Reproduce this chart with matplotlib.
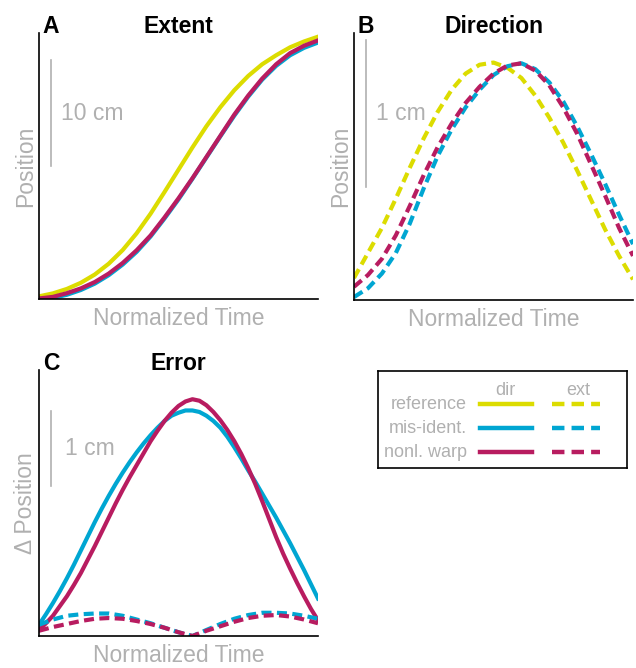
import numpy as np
import matplotlib
matplotlib.use("Agg")
import matplotlib.pyplot as plt

plt.rcParams['font.family'] = ['Liberation Sans', 'DejaVu Sans']

# normalized time samples
time = [0.0, 0.05, 0.10, 0.15, 0.20, 0.25, 0.30, 0.35, 0.40, 0.45, 0.50,
        0.55, 0.60, 0.65, 0.70, 0.75, 0.80, 0.85, 0.90, 0.95, 1.0]
time_fine = [0.0, 0.025, 0.05, 0.075, 0.1, 0.125, 0.15, 0.175, 0.2, 0.225,
             0.25, 0.275, 0.3, 0.325, 0.35, 0.375, 0.4, 0.425, 0.45, 0.475,
             0.5, 0.525, 0.55, 0.575, 0.6, 0.625, 0.65, 0.675, 0.7, 0.725,
             0.75, 0.775, 0.8, 0.825, 0.85, 0.875, 0.9, 0.925, 0.95, 0.975, 1.0]

# A: extent (cm)
ext_ref = [0.25, 0.53, 0.95, 1.53, 2.31, 3.33, 4.62, 6.2, 8.05, 10.1, 12.2,
           14.3, 16.3, 18.1, 19.7, 21.05, 22.15, 23.0, 23.75, 24.3, 24.75]
ext_mis = [0.0, 0.1, 0.4, 0.85, 1.45, 2.25, 3.25, 4.45, 5.9, 7.6, 9.4,
           11.35, 13.35, 15.35, 17.3, 19.1, 20.7, 22.0, 23.0, 23.7, 24.2]
ext_warp = [0.05, 0.2, 0.55, 1.0, 1.6, 2.4, 3.4, 4.6, 6.0, 7.7, 9.5,
            11.4, 13.4, 15.4, 17.4, 19.2, 20.8, 22.15, 23.2, 23.9, 24.4]

# B: direction (cm)
dir_ref = [0.15, 0.32, 0.49, 0.69, 0.90, 1.10, 1.28, 1.43, 1.54, 1.60, 1.615,
           1.58, 1.51, 1.39, 1.24, 1.07, 0.88, 0.68, 0.48, 0.30, 0.14]
dir_mis = [0.02, 0.08, 0.18, 0.32, 0.52, 0.76, 0.98, 1.16, 1.31, 1.43, 1.53,
           1.59, 1.61, 1.57, 1.48, 1.35, 1.18, 0.99, 0.79, 0.58, 0.38]
dir_warp = [0.09, 0.17, 0.28, 0.44, 0.64, 0.85, 1.04, 1.20, 1.34, 1.45, 1.54,
            1.595, 1.61, 1.56, 1.46, 1.31, 1.13, 0.92, 0.71, 0.49, 0.30]

# C: error (cm), solid = dir (fine time), dashed = ext
err_dir_mis = [0.15, 0.29, 0.44, 0.60, 0.77, 0.95, 1.14, 1.33, 1.52, 1.70,
               1.87, 2.03, 2.18, 2.32, 2.45, 2.57, 2.68, 2.78, 2.87, 2.94,
               2.98, 3.01, 3.01, 2.99, 2.94, 2.87, 2.78, 2.66, 2.52, 2.37,
               2.21, 2.06, 1.90, 1.74, 1.58, 1.41, 1.24, 1.06, 0.88, 0.69, 0.50]
err_dir_warp = [0.08, 0.17, 0.27, 0.40, 0.53, 0.68, 0.84, 1.02, 1.20, 1.39,
                1.58, 1.77, 1.95, 2.12, 2.28, 2.44, 2.60, 2.74, 2.87, 2.98,
                3.07, 3.13, 3.16, 3.14, 3.08, 2.99, 2.88, 2.75, 2.60, 2.43,
                2.24, 2.03, 1.80, 1.56, 1.32, 1.10, 0.90, 0.71, 0.53, 0.36, 0.21]
err_ext_mis = [0.15, 0.22, 0.27, 0.29, 0.30, 0.30, 0.27, 0.22, 0.17, 0.11, 0.05,
               0.0, 0.08, 0.16, 0.23, 0.28, 0.31, 0.31, 0.30, 0.27, 0.23]
err_ext_warp = [0.07, 0.12, 0.16, 0.20, 0.23, 0.24, 0.23, 0.20, 0.16, 0.11, 0.05,
                0.0, 0.07, 0.13, 0.19, 0.24, 0.27, 0.28, 0.26, 0.22, 0.17]

names = ['reference', 'mis-ident.', 'nonl. warp']
colors = ['#dcdc00', '#00a6d2', '#b81c60']
grey = '#b0b0b0'
dash = (2.4, 1.3)


def style(ax, letter, title, ylab, ymax, bar, bar_text, text_x):
    ax.set_xlim(0, 1)
    ax.set_ylim(0, ymax)
    ax.set_xticks([])
    ax.set_yticks([])
    for s in ['top', 'right']:
        ax.spines[s].set_visible(False)
    for s in ['left', 'bottom']:
        ax.spines[s].set_linewidth(1.2)
    ax.text(0.5, 1.0, title, transform=ax.transAxes, fontsize=16.5,
            fontweight='bold', ha='center', va='baseline')
    ax.text(0.014, 1.0, letter, transform=ax.transAxes, fontsize=16.5,
            fontweight='bold', ha='left', va='baseline')
    ax.set_xlabel('Normalized Time', fontsize=16.5, color=grey, labelpad=6)
    ax.set_ylabel(ylab, fontsize=16.5, color=grey, labelpad=1.5)
    ax.plot([0.043, 0.043], bar, color=grey, lw=1.2)
    ax.text(text_x, (bar[0] + bar[1]) / 2, bar_text, fontsize=16.5,
            color=grey, ha='left', va='center')


fig = plt.figure(figsize=(6.36, 6.68), dpi=100)
axA = fig.add_axes([0.0613, 0.5524, 0.4387, 0.3982])
axB = fig.add_axes([0.5566, 0.5509, 0.4387, 0.3997])
axC = fig.add_axes([0.0613, 0.0479, 0.4387, 0.3982])
axL = fig.add_axes([0.594, 0.2994, 0.3915, 0.1452])

style(axA, 'A', 'Extent', 'Position', 25.1, [12.55, 22.55], '10 cm', 0.079)
for y, c in zip([ext_ref, ext_mis, ext_warp], colors):
    axA.plot(time, y, color=c, lw=3)

style(axB, 'B', 'Direction', 'Position', 1.816, [0.77, 1.77], '1 cm', 0.079)
for y, c in zip([dir_ref, dir_mis, dir_warp], colors):
    axB.plot(time, y, color=c, lw=3, ls=(0, dash))

style(axC, 'C', 'Error', '\u0394 Position', 3.55, [2.0, 3.0], '1 cm', 0.093)
axC.plot(time_fine, err_dir_mis, color=colors[1], lw=3)
axC.plot(time_fine, err_dir_warp, color=colors[2], lw=3)
axC.plot(time, err_ext_mis, color=colors[1], lw=3, ls=(0, dash))
axC.plot(time, err_ext_warp, color=colors[2], lw=3, ls=(0, dash))

# legend box
axL.set_xlim(0, 249)
axL.set_ylim(97, 0)
axL.set_xticks([])
axL.set_yticks([])
for s in axL.spines.values():
    s.set_linewidth(1.2)
axL.text(128, 19, 'dir', fontsize=13, color=grey, ha='center', va='center')
axL.text(200, 19, 'ext', fontsize=13, color=grey, ha='center', va='center')
for i, (n, c) in enumerate(zip(names, colors)):
    yy = 33 + 24 * i
    axL.text(89, yy, n, fontsize=13, color=grey, ha='right', va='center')
    axL.plot([102, 154], [yy, yy], color=c, lw=3.2)
    axL.plot([174, 222], [yy, yy], color=c, lw=3.2, ls=(0, (2.8, 1.6)))

fig.savefig('out.png', dpi=100)
